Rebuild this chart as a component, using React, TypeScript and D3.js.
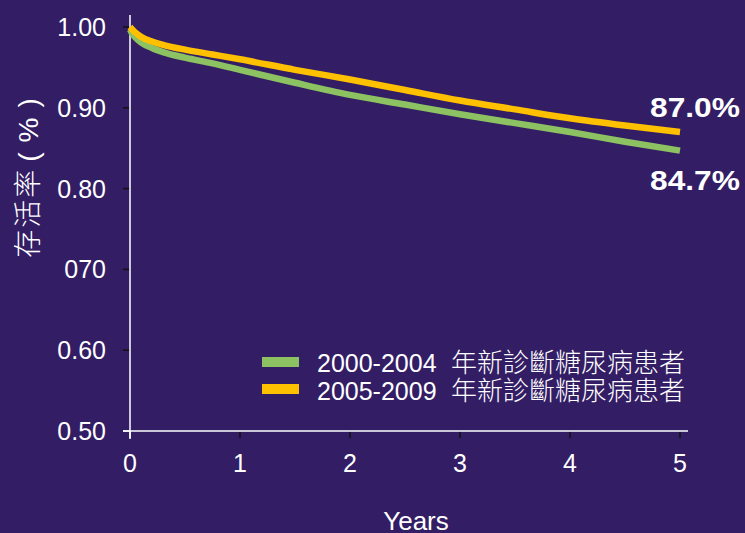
import React from "react";
import * as d3 from "d3";

const years = [0, 0.02, 0.05, 0.1, 0.2, 0.3, 0.5, 0.75, 1, 1.5, 2, 2.5, 3, 3.5, 4, 4.5, 5];
const green2000 = [0.997, 0.992, 0.987, 0.981, 0.974, 0.969, 0.962, 0.955, 0.947, 0.931, 0.916, 0.904, 0.892, 0.881, 0.870, 0.858, 0.847];
const yellow2005 = [1.0, 0.997, 0.993, 0.988, 0.982, 0.978, 0.972, 0.966, 0.960, 0.947, 0.935, 0.922, 0.909, 0.898, 0.887, 0.878, 0.870];
const yTicks = [0.5, 0.6, 0.7, 0.8, 0.9, 1.0];
const yTickLabels = ["0.50", "0.60", "070", "0.80", "0.90", "1.00"];
const xTicks = [0, 1, 2, 3, 4, 5];
const seriesNames = ["2000-2004", "2005-2009"];
const seriesSuffix = "年新診斷糖尿病患者";
const endLabels = ["84.7%", "87.0%"];

const W = 745, H = 533;
const BG = "#331d64";
const GREEN = "#8dc262";
const YELLOW = "#ffc000";
const FONT = "'Liberation Sans', Arial, sans-serif";
const CJK = "'Noto Sans CJK TC', 'Noto Sans CJK SC', sans-serif";

export default function App() {
  const x = d3.scaleLinear().domain([0, 5]).range([130, 680]);
  const y = d3.scaleLinear().domain([0.5, 1.0]).range([431, 27]);
  const line = d3.line<[number, number]>().x(d => x(d[0])).y(d => y(d[1])).curve(d3.curveMonotoneX);
  const gData = years.map((t, i) => [t, green2000[i]] as [number, number]);
  const yData = years.map((t, i) => [t, yellow2005[i]] as [number, number]);

  return (
    <div style={{ position: "fixed", left: 0, top: 0, width: W, height: H }}>
      <svg width={W} height={H} style={{ display: "block" }}>
        <rect x={0} y={0} width={W} height={H} fill={BG} />
        {/* y ticks */}
        {yTicks.map((v, i) => (
          <g key={v}>
            <line x1={123} x2={130} y1={y(v)} y2={y(v)} stroke={v === 0.5 ? "#fff" : "#111"} strokeWidth={1.5} />
            <text x={106} y={y(v) + 9} textAnchor="end" fill="#fff" fontFamily={FONT} fontSize={25}>{yTickLabels[i]}</text>
          </g>
        ))}
        {/* x ticks */}
        {xTicks.map(v => (
          <g key={v}>
            <line x1={x(v)} x2={x(v)} y1={431} y2={438} stroke={v === 0 ? "#fff" : "#111"} strokeWidth={1.5} />
            <text x={x(v)} y={472} textAnchor="middle" fill="#fff" fontFamily={FONT} fontSize={25}>{v}</text>
          </g>
        ))}
        {/* axes */}
        <line x1={130} x2={130} y1={15} y2={439} stroke="#fff" strokeWidth={1.5} />
        <line x1={123} x2={688} y1={431} y2={431} stroke="#fff" strokeWidth={1.5} />
        {/* lines */}
        <path d={line(gData) || ""} fill="none" stroke={GREEN} strokeWidth={6.5} />
        <path d={line(yData) || ""} fill="none" stroke={YELLOW} strokeWidth={6.5} />
        {/* end labels */}
        <text x={650} y={117} textLength={90} lengthAdjust="spacingAndGlyphs" fill="#fff" fontFamily={FONT} fontWeight="bold" fontSize={28.5}>{endLabels[1]}</text>
        <text x={650} y={190} textLength={90} lengthAdjust="spacingAndGlyphs" fill="#fff" fontFamily={FONT} fontWeight="bold" fontSize={28.5}>{endLabels[0]}</text>
        {/* legend */}
        {[GREEN, YELLOW].map((c, i) => (
          <g key={c}>
            <rect x={262} y={357 + i * 27} width={37} height={10} fill={c} />
            <text x={317} y={372 + i * 28} fill="#fff" fontFamily={FONT} fontSize={25}>{seriesNames[i]}</text>
            <text x={451} y={372 + i * 28} fill="#fff" fontFamily={CJK} fontSize={26} fontWeight={300}>{seriesSuffix}</text>
          </g>
        ))}
        {/* axis titles */}
        <text x={416} y={530} textAnchor="middle" fill="#fff" fontFamily={FONT} fontSize={26}>Years</text>
        <text transform="translate(38,177) rotate(-90)" textAnchor="middle" fill="#fff" fontFamily={CJK} fontSize={28} fontWeight={300} letterSpacing={2}>
          存活率<tspan fontFamily={FONT} dx={6}>(</tspan><tspan fontFamily={FONT} dx={8}>%</tspan><tspan fontFamily={FONT} dx={8}>)</tspan>
        </text>
      </svg>
    </div>
  );
}
